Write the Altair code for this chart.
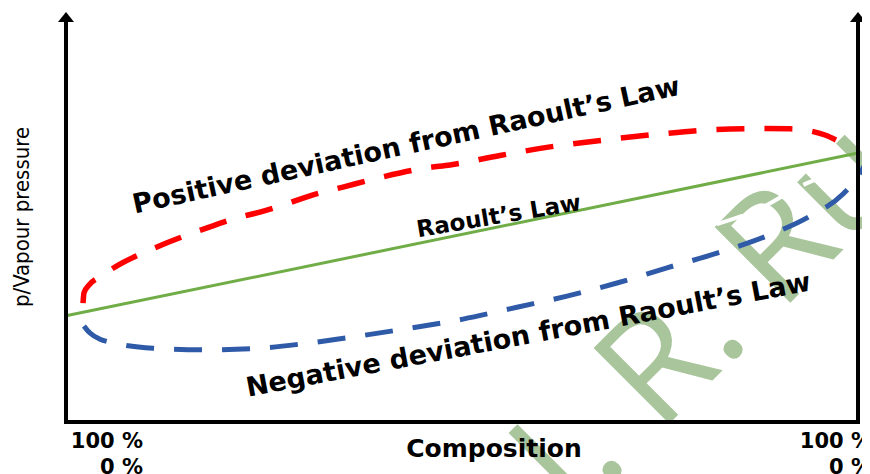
import altair as alt
import pandas as pd

# x: composition (% of component B, 0..100), y: vapour pressure (relative units, 0..100)
raoult_x = [0, 100]
raoult_y = [25.9, 65.6]

pos_x = [2.15, 2.27, 2.90, 4.29, 6.82, 9.72, 12.75, 15.28, 18.18, 21.59, 24.49, 27.40,
         31.19, 34.97, 40.03, 45.58, 48.48, 54.80, 61.11, 68.06, 74.75, 81.57, 88.26,
         91.41, 93.94, 95.83, 97.22]
pos_y = [29.0, 31.5, 33.4, 35.4, 38.5, 41.2, 43.7, 45.6, 47.6, 49.8, 51.2, 52.9,
         55.4, 57.3, 59.8, 62.0, 62.7, 65.0, 67.1, 68.8, 70.2, 71.3, 71.6,
         71.5, 71.0, 70.0, 68.8]

neg_x = [2.27, 3.03, 4.29, 5.93, 10.98, 18.18, 24.49, 30.81, 37.12, 43.43, 50.13,
         56.94, 63.26, 69.57, 75.88, 82.20, 88.51, 93.94, 98.11, 99.87, 101.0]
neg_y = [23.4, 21.7, 20.2, 19.3, 18.0, 17.6, 18.0, 19.3, 21.0, 22.9, 25.1,
         28.0, 30.7, 33.9, 37.6, 41.2, 45.4, 50.2, 55.6, 59.5, 63.2]

ghost_x = [4.67, 9.72, 16.92, 23.61, 30.43, 37.12, 43.81, 50.13, 56.44, 62.75,
           69.57, 75.88, 81.69, 87.25, 93.06, 96.84]
ghost_y = [25.6, 24.4, 24.9, 25.4, 26.6, 28.0, 30.2, 32.9, 35.4, 38.3,
           41.2, 44.9, 48.0, 51.7, 57.8, 60.7]

frame_x = [0, 100, 0]
frame_x2 = [0, 100, 100]
frame_y = [0, 0, 0]
frame_y2 = [98, 98, 0]

arrow_x = [0, 100]
arrow_y = [100, 100]

tick_left = "100 %\n0 %"
tick_right = "100 %\n0 %"

X = alt.Scale(domain=[0, 100], nice=False, zero=False)
Y = alt.Scale(domain=[0, 100], nice=False, zero=False)


def curve(xs, ys):
    return pd.DataFrame({"x": xs, "y": ys, "i": list(range(len(xs)))})


def line_layer(df, color, width, dash=None):
    kw = dict(color=color, strokeWidth=width, interpolate="monotone", strokeCap="butt")
    if dash:
        kw["strokeDash"] = dash
    return alt.Chart(df).mark_line(**kw).encode(
        x=alt.X("x:Q", scale=X, axis=None),
        y=alt.Y("y:Q", scale=Y, axis=None),
        order="i:Q",
    )


def label(text, x, y, size, angle=0, align="center", baseline="alphabetic",
          font="DejaVu Sans", weight="bold", color="black"):
    return alt.Chart(pd.DataFrame({"t": [text]})).mark_text(
        font=font, fontSize=size, fontWeight=weight, color=color,
        angle=angle, align=align, baseline=baseline,
    ).encode(text="t:N", x=alt.value(x), y=alt.value(y))


WM = "#a9c59c"
watermark = label("I. R. Rus", 508, 507, 150, angle=315, align="left", font="Open Sans",
                  weight="normal", color=WM)

ghost = line_layer(curve(ghost_x, ghost_y), "white", 4, [28, 20])
raoult = line_layer(curve(raoult_x, raoult_y), "#70ad47", 3)
pos = line_layer(curve(pos_x, pos_y), "#ff0000", 5.5, [28, 20])
neg = line_layer(curve(neg_x, neg_y), "#2f5aa8", 5, [28, 20])

frame = alt.Chart(pd.DataFrame({"x": frame_x, "x2": frame_x2, "y": frame_y, "y2": frame_y2})).mark_rule(
    color="black", strokeWidth=4, strokeCap="square"
).encode(
    x=alt.X("x:Q", scale=X, axis=None), x2="x2",
    y=alt.Y("y:Q", scale=Y, axis=None), y2="y2",
)

arrows = alt.Chart(pd.DataFrame({"x": arrow_x, "y": arrow_y})).mark_point(
    shape="M0,0L-0.8,1L0.8,1Z", size=400, filled=True, color="black", opacity=1
).encode(
    x=alt.X("x:Q", scale=X, axis=None),
    y=alt.Y("y:Q", scale=Y, axis=None),
)

ticks_l = alt.Chart(pd.DataFrame({"x": [0], "t": [tick_left]})).mark_text(
    font="DejaVu Sans", fontWeight="bold", fontSize=21, align="right",
    baseline="alphabetic", lineBreak="\n", lineHeight=26, dx=77, color="black"
).encode(x=alt.X("x:Q", scale=X, axis=None), y=alt.value(436), text="t:N")

ticks_r = alt.Chart(pd.DataFrame({"x": [100], "t": [tick_right]})).mark_text(
    font="DejaVu Sans", fontWeight="bold", fontSize=21, align="right",
    baseline="alphabetic", lineBreak="\n", lineHeight=26, dx=14, color="black"
).encode(x=alt.X("x:Q", scale=X, axis=None), y=alt.value(436), text="t:N")

lab_pos = label("Positive deviation from Raoult\u2019s Law", 342, 142, 27, angle=347.7)
lab_neg = label("Negative deviation from Raoult\u2019s Law", 464, 331.5, 27, angle=349.3)
lab_raoult = label("Raoult\u2019s Law", 434, 211.5, 23, angle=350.5)
lab_comp = label("Composition", 428, 445, 25)
lab_y = label("p/Vapour pressure", -44, 205, 22, angle=270, baseline="middle",
              font="Liberation Sans Narrow, DejaVu Sans Condensed, Roboto Condensed, Roboto, sans-serif",
              weight="normal")

chart = alt.layer(
    watermark, ghost, raoult, pos, neg, frame, arrows,
    ticks_l, ticks_r, lab_pos, lab_neg, lab_raoult, lab_comp, lab_y,
).properties(
    width=792, height=410,
    autosize=alt.AutoSizeParams(type="none"),
    padding={"left": 58, "top": 4, "right": 4, "bottom": 52},
    background="white",
).configure_view(strokeWidth=0)

chart.save("out.html", embed_options={"renderer": "svg", "actions": False})
